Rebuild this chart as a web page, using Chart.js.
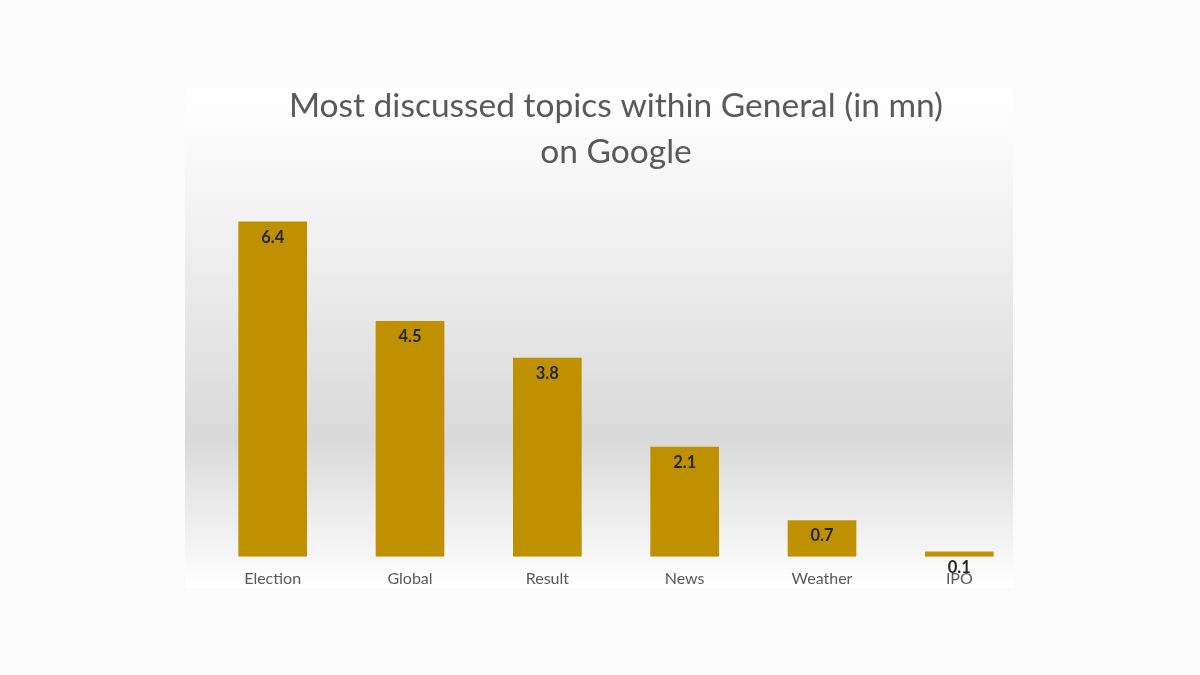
<!DOCTYPE html>
<html>
<head>
<meta charset="utf-8">
<script src="https://cdn.jsdelivr.net/npm/chart.js@4.4.1/dist/chart.umd.min.js"></script>
<style>
  html, body { margin: 0; padding: 0; background: #fbfbfb; }
  #wrap { width: 1200px; height: 675px; position: relative; }
</style>
</head>
<body>
<div id="wrap"><canvas id="c" width="1200" height="675"></canvas></div>
<script>
const categories = ["Election", "Global", "Result", "News", "Weather", "IPO"];
const values = [6.4, 4.5, 3.8, 2.1, 0.7, 0.1];
const titleLines = ["Most discussed topics within General (in mn)", "on Google"];

const panelBg = {
  id: 'panelBg',
  beforeDraw(chart) {
    const ctx = chart.ctx;
    const x0 = 185, x1 = 1013, y0 = 88, y1 = 588;
    const g = ctx.createLinearGradient(0, y0, 0, y1);
    g.addColorStop(0, '#ffffff');
    g.addColorStop(0.25, '#f3f3f3');
    g.addColorStop(0.7, '#d9d9d9');
    g.addColorStop(1, '#ffffff');
    ctx.save();
    ctx.fillStyle = g;
    ctx.fillRect(x0, y0, x1 - x0, y1 - y0);
    ctx.restore();
  }
};

const barLabels = {
  id: 'barLabels',
  afterDatasetsDraw(chart) {
    const ctx = chart.ctx;
    const meta = chart.getDatasetMeta(0);
    ctx.save();
    ctx.font = 'bold 16.5px Lato';
    ctx.fillStyle = '#262626';
    ctx.textAlign = 'center';
    ctx.textBaseline = 'middle';
    meta.data.forEach((bar, i) => {
      ctx.fillText(values[i].toFixed(1), bar.x, bar.y + 16);
    });
    ctx.restore();
  }
};

new Chart(document.getElementById('c'), {
  type: 'bar',
  data: {
    labels: categories,
    datasets: [{
      data: values,
      backgroundColor: '#bf9000',
      borderWidth: 0,
      categoryPercentage: 1,
      barPercentage: 0.5
    }]
  },
  options: {
    responsive: false,
    animation: false,
    layout: { padding: { top: 80, left: 204, right: 172, bottom: 75 } },
    plugins: {
      legend: { display: false },
      tooltip: { enabled: false },
      title: {
        display: true,
        text: titleLines,
        color: '#595959',
        font: { family: 'Lato', size: 33.5, weight: 'normal', lineHeight: 1.35 },
        padding: { top: 4, bottom: 15.6 }
      }
    },
    scales: {
      x: {
        grid: { display: false, drawTicks: false },
        border: { display: false },
        ticks: { color: '#595959', font: { family: 'Lato', size: 16 }, padding: 12 }
      },
      y: {
        display: false,
        min: 0,
        max: 7
      }
    }
  },
  plugins: [panelBg, barLabels]
});
</script>
</body>
</html>
